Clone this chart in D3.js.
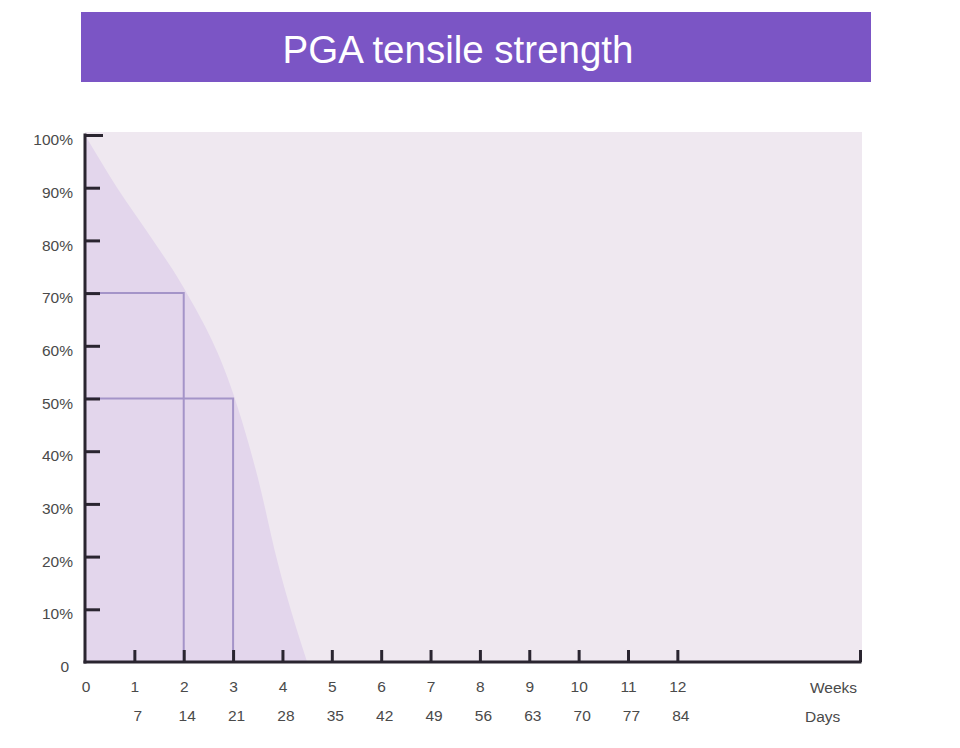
<!DOCTYPE html>
<html>
<head>
<meta charset="utf-8">
<script src="https://cdn.jsdelivr.net/npm/d3@7"></script>
<style>
	body { margin: 0; background: #ffffff; }
	svg { display: block; }
	.axis text { font-family: "Liberation Sans", Arial, sans-serif; font-size: 15.5px; fill: #4a4a4a; }
	.axis path, .axis line { stroke: #2a2530; stroke-width: 3; }
</style>
</head>
<body>
<div id="chart"></div>
<script>
// chart values
var title = 'PGA tensile strength';
var curveWeeks = [0, 0.65, 1.38, 2, 3, 3.5, 3.9, 4.5];
var curveStrength = [100, 90, 80, 71, 51, 35, 19, 0];
var markWeeks = [2, 3];
var markStrength = [70, 50];
var weekTicks = [1, 2, 3, 4, 5, 6, 7, 8, 9, 10, 11, 12];
var weekLabels = ['0', '1', '2', '3', '4', '5', '6', '7', '8', '9', '10', '11', '12'];
var dayLabels = ['7', '14', '21', '28', '35', '42', '49', '56', '63', '70', '77', '84'];
var yTicks = [0, 10, 20, 30, 40, 50, 60, 70, 80, 90, 100];
var xMax = 15.7;

var W = 960, H = 748;
var margins = { L: 85, R: 100, T: 135, B: 86 };

var svg = d3.select('#chart').append('svg')
	.attr('width', W)
	.attr('height', H);

// title bar
svg.append('rect')
	.attr('x', 81).attr('y', 12)
	.attr('width', 790).attr('height', 70)
	.attr('fill', '#7b55c5');
svg.append('text')
	.attr('x', 458).attr('y', 49)
	.attr('text-anchor', 'middle')
	.attr('dominant-baseline', 'central')
	.attr('font-family', '"Liberation Sans", Arial, sans-serif')
	.attr('font-size', 38.5)
	.attr('fill', '#ffffff')
	.text(title);

var xScale = d3.scaleLinear()
	.domain([0, xMax])
	.range([margins.L, W - margins.R]);

var yScale = d3.scaleLinear()
	.domain([0, 100])
	.range([H - margins.B, margins.T]);

// plot background
svg.append('rect')
	.attr('x', xScale(0))
	.attr('y', yScale(100) - 3)
	.attr('width', xScale(xMax) - xScale(0) + 2)
	.attr('height', yScale(0) - yScale(100) + 3)
	.attr('fill', '#efe8f0');

// strength area
var pts = curveWeeks.map((w, i) => [w, curveStrength[i]]);
var area = d3.area()
	.x(d => xScale(d[0]))
	.y0(yScale(0))
	.y1(d => yScale(d[1]))
	.curve(d3.curveMonotoneX);
svg.append('path')
	.datum(pts)
	.attr('d', area)
	.attr('fill', '#e3d6ec');

// marker boxes
markWeeks.forEach(function(w, i) {
	var s = markStrength[i];
	svg.append('path')
		.attr('d', 'M' + xScale(0) + ',' + yScale(s) +
			'H' + xScale(w) + 'V' + yScale(0))
		.attr('fill', 'none')
		.attr('stroke', '#a494c8')
		.attr('stroke-width', 2);
});

// y axis
var yAxis = svg.append('g')
	.attr('class', 'axis')
	.attr('transform', 'translate(' + xScale(0) + ',0)')
	.call(d3.axisLeft(yScale)
		.tickValues(yTicks)
		.tickSize(-15)
		.tickSizeOuter(0)
		.tickPadding(12)
		.tickFormat(d => d === 0 ? '0' : d + '%'));
yAxis.select('.domain').attr('d', 'M0,' + (yScale(100) - 1.5) + 'V' + (yScale(0) + 1.5));
yAxis.selectAll('.tick text').attr('dy', '0.62em');
yAxis.selectAll('.tick').filter(d => d === 100).select('line').attr('x2', 18);
yAxis.selectAll('.tick').filter(d => d === 0).select('line').remove();
yAxis.selectAll('.tick').filter(d => d === 0).select('text').attr('x', -16);

// x axis, weeks
var xAxis = svg.append('g')
	.attr('class', 'axis')
	.attr('transform', 'translate(0,' + yScale(0) + ')')
	.call(d3.axisBottom(xScale)
		.tickValues(weekTicks.concat([xMax]))
		.tickSize(-12)
		.tickSizeOuter(0)
		.tickPadding(19)
		.tickFormat(d => d === xMax ? '' : weekLabels[d]));
xAxis.select('.domain').attr('d', 'M' + (xScale(0) - 1.5) + ',0H' + (xScale(xMax) + 1.5));

// week 0 label
xAxis.append('text')
	.attr('x', xScale(0) + 1)
	.attr('y', 19)
	.attr('dy', '0.71em')
	.attr('text-anchor', 'middle')
	.text(weekLabels[0]);

// days row
var dayAxis = svg.append('g')
	.attr('class', 'axis')
	.attr('transform', 'translate(3,' + (yScale(0) + 29) + ')')
	.call(d3.axisBottom(xScale)
		.tickValues(weekTicks)
		.tickSize(0)
		.tickPadding(19)
		.tickFormat((d, i) => dayLabels[i]));
dayAxis.select('.domain').remove();

// row titles
svg.append('g').attr('class', 'axis')
	.append('text')
	.attr('x', 857).attr('y', 693)
	.attr('text-anchor', 'end')
	.text('Weeks');
svg.append('g').attr('class', 'axis')
	.append('text')
	.attr('x', 805).attr('y', 722)
	.attr('text-anchor', 'start')
	.text('Days');
</script>
</body>
</html>
